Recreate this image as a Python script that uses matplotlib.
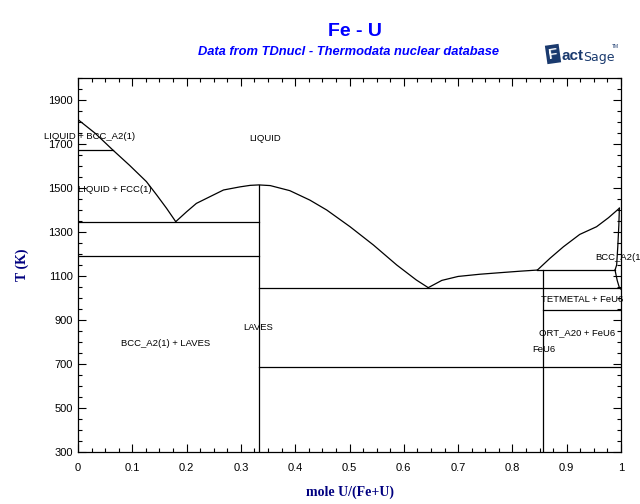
import matplotlib.pyplot as plt
from matplotlib.ticker import MultipleLocator

plt.rcParams['font.family'] = ['Liberation Sans', 'DejaVu Sans']

# phase boundaries (x = mole U/(Fe+U), T in K)
liq_fe_x = [0.0, 0.032, 0.064, 0.095, 0.126, 0.145, 0.163, 0.18]
liq_fe_t = [1811, 1748, 1673, 1603, 1529, 1468, 1408, 1347]

liq_laves_x = [0.18, 0.20, 0.218, 0.245, 0.268, 0.298, 0.317, 0.333, 0.354,
               0.390, 0.427, 0.458, 0.501, 0.544, 0.587, 0.623, 0.645]
liq_laves_t = [1347, 1392, 1430, 1463, 1491, 1505, 1512, 1514, 1511,
               1488, 1445, 1400, 1324, 1241, 1150, 1082, 1047]

liq_feu6_x = [0.645, 0.67, 0.70, 0.74, 0.777, 0.815, 0.846]
liq_feu6_t = [1047, 1080, 1098, 1108, 1115, 1122, 1127]

liq_u_x = [0.846, 0.869, 0.894, 0.924, 0.955, 0.977, 0.997]
liq_u_t = [1127, 1180, 1233, 1289, 1324, 1365, 1408]

sol_u_x = [0.997, 0.996, 0.994, 0.992, 0.989]
sol_u_t = [1408, 1330, 1230, 1150, 1127]

bcc_u_x = [0.989, 0.993, 0.997, 1.0]
bcc_u_t = [1127, 1080, 1047, 1040]

# horizontal invariant lines: (x_start, x_end, T)
invariants = [
    (0.0, 0.064, 1673),
    (0.0, 0.333, 1347),
    (0.0, 0.333, 1191),
    (0.333, 1.0, 1047),
    (0.333, 1.0, 685),
    (0.846, 0.989, 1127),
    (0.857, 1.0, 945),
]

# compounds: (x, T_top)
compounds = [(1 / 3, 1514), (6 / 7, 1127)]

labels = [
    ("LIQUID + BCC_A2(1)", -0.063, 1732),
    ("LIQUID", 0.315, 1723),
    ("LIQUID + FCC(1)", 0.0, 1491),
    ("BCC_A2(1)", 0.952, 1182),
    ("TETMETAL + FeU6", 0.853, 991),
    ("ORT_A20 + FeU6", 0.849, 841),
    ("FeU6", 0.836, 768),
    ("LAVES", 0.304, 868),
    ("BCC_A2(1) + LAVES", 0.079, 795),
]

fig = plt.figure(figsize=(6.4, 5.04), dpi=100)
ax = fig.add_axes([78 / 640, 52 / 504, 543 / 640, 374 / 504])

lw = 0.9
for xs, ts in [(liq_fe_x, liq_fe_t), (liq_laves_x, liq_laves_t),
               (liq_feu6_x, liq_feu6_t), (liq_u_x, liq_u_t),
               (sol_u_x, sol_u_t), (bcc_u_x, bcc_u_t)]:
    ax.plot(xs, ts, color='black', lw=lw)

for x0, x1, t in invariants:
    ax.plot([x0, x1], [t, t], color='black', lw=lw)

for x, t in compounds:
    ax.plot([x, x], [300, t], color='black', lw=lw)

for txt, x, t in labels:
    ax.text(x, t, txt, fontsize=6.8, ha='left', va='center', clip_on=False)

ax.set_xlim(0, 1)
ax.set_ylim(300, 2000)
ax.set_xticks([0, 0.1, 0.2, 0.3, 0.4, 0.5, 0.6, 0.7, 0.8, 0.9, 1])
ax.set_xticklabels(['0', '0.1', '0.2', '0.3', '0.4', '0.5', '0.6', '0.7', '0.8', '0.9', '1'])
ax.set_yticks([300, 500, 700, 900, 1100, 1300, 1500, 1700, 1900])
ax.xaxis.set_minor_locator(MultipleLocator(0.025))
ax.yaxis.set_minor_locator(MultipleLocator(50))
ax.tick_params(which='both', direction='in', top=True, right=True, labelsize=8, width=0.8)
ax.tick_params(which='major', length=6)
ax.tick_params(which='minor', length=3)
ax.tick_params(axis='x', pad=8)
for s in ax.spines.values():
    s.set_linewidth(0.9)

ax.set_xlabel("mole U/(Fe+U)", family='Liberation Serif', fontweight='bold',
              fontsize=10, color='#000080', labelpad=9)
ax.set_ylabel("T (K)", family='Liberation Serif', fontweight='bold',
              fontsize=10, color='#000080', labelpad=14)

fig.text(355 / 640, 1 - 32 / 504, "Fe - U", ha='center', va='center',
         fontsize=14, fontweight='bold', color='#0000ff')
fig.text(348 / 640, 1 - 52 / 504, "Data from TDnucl - Thermodata nuclear database",
         ha='center', va='center', fontsize=9.3, fontweight='bold',
         style='italic', color='#0000ff')

# FactSage logo
logo = '#1a3a6e'
fig.text(553 / 640, 1 - 54 / 504, "F", ha='center', va='center', fontsize=11,
         fontweight='bold', color='white', rotation=8,
         bbox=dict(boxstyle='square,pad=0.15', fc=logo, ec='none'))
fig.text(561 / 640, 1 - 56 / 504, "act", ha='left', va='center', fontsize=11,
         fontweight='bold', color=logo)
fig.text(583 / 640, 1 - 57 / 504, "Sage", ha='left', va='center', fontsize=9,
         color=logo, family='Liberation Sans Narrow')
fig.text(612 / 640, 1 - 46 / 504, "TM", ha='left', va='center', fontsize=3.5,
         color=logo)

fig.savefig('out.png', dpi=100)
